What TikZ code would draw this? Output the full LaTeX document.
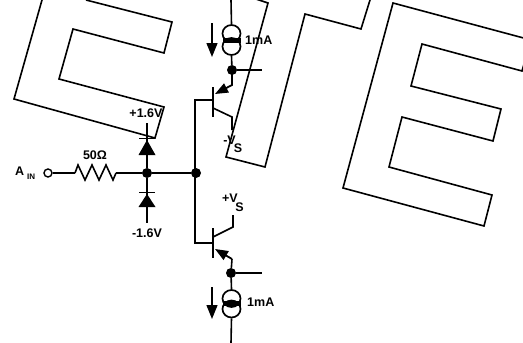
\documentclass[tikz,border=0pt]{standalone}
\usepackage{fontspec}
\setmainfont{Liberation Sans}
\usetikzlibrary{arrows.meta,shapes.geometric}
\tikzset{
 outline/.style={line width=1.6pt,line join=miter},
 wire/.style={line width=1.6pt},
 dotj/.style={circle,fill=black,inner sep=0pt,minimum size=10pt},
 lbl/.style={font=\bfseries\fontsize{12.5}{14}\selectfont,inner sep=0pt},
 csrc/.style={draw,ellipse,line width=1.7pt,minimum width=18pt,minimum height=17pt,inner sep=0pt},
 curarrow/.style={line width=1.3pt,-{Triangle[length=14pt,width=11pt]}},
 emit/.style={line width=1.8pt,-{Triangle[length=13pt,width=10pt]}},
 dio/.style={fill=black},
}
\begin{document}
\begin{tikzpicture}[x=1pt,y=-1pt]
\useasboundingbox (0,0) rectangle (523,343);
\clip (0,0) rectangle (523,343);
% watermark letters
\draw[outline] (42,0) -- (14,99) -- (155,138) -- (164,107) -- (59,79) -- (73,29) -- (164,53) -- (172,22) -- (86,0);
\draw[outline] (250,-3) -- (268,3) -- (226,157) -- (265,167) -- (305,14) -- (361,29) -- (370,0);
\draw[outline] (393,3) -- (531,40) -- (522,71) -- (422,44) -- (411,86) -- (501,109) -- (493,141) -- (402,117) -- (389,167) -- (492,195) -- (484,226) -- (343,188) -- cycle;
% nodes
\node[dotj] (j1) at (147,173) {};
\node[dotj] (j2) at (196,173) {};
\node[dotj] (j3) at (232,70) {};
\node[dotj] (j4) at (231,273) {};
\node[circle,draw,line width=1.4pt,minimum size=8pt,inner sep=0pt] (ain) at (48,173) {};
\coordinate (r1) at (75,173);
\coordinate (r2) at (116,173);
\coordinate (t1) at (147,123);
\coordinate (t2) at (147,223);
\coordinate (qb) at (213,100);
\coordinate (qb2) at (213,243);
\coordinate (top) at (231,0);
\coordinate (bot) at (231,343);
\coordinate (o1) at (262,70);
\coordinate (o2) at (262,273);
\node[csrc] (s1) at (231.5,33.5) {};
\node[csrc] (s2) at (231.5,46.5) {};
\node[csrc] (s3) at (231.5,298.5) {};
\node[csrc] (s4) at (231.5,309) {};
\fill (222.5,37.5) rectangle (240.5,42.5);
\fill (222.5,301) rectangle (240.5,306);
% wiring
\draw[wire] (ain) -- (r1);
\draw[wire] (r1) -- (78,165) -- (85,180) -- (92,165) -- (99,180) -- (106,165) -- (113,180) -- (r2);
\draw[wire] (r2) -- (j1) -- (j2);
\draw[wire] (t1) -- (j1) -- (t2);
\draw[wire] (qb) -- (195,100) -- (195,243) -- (qb2);
\draw[wire] (top) -- (s1.north);
\draw[wire] (s2.south) -- (j3);
\draw[wire] (j3) -- (o1);
\draw[wire] (s4.south) -- (bot);
\draw[wire] (j4) -- (s3.north);
\draw[wire] (j4) -- (o2);
% diodes
\draw[wire] (139,138.5) -- (155,138.5);
\fill[dio] (147,140) -- (155.5,155) -- (138.5,155) -- cycle;
\draw[wire] (139,192.5) -- (155,192.5);
\fill[dio] (147,194) -- (155.5,207) -- (138.5,207) -- cycle;
% top transistor
\draw[line width=2.2pt] (213,87) -- (213,117);
\draw[emit] (232,70) -- (232,85) -- (215,94);
\draw[wire] (213,108) -- (232,117) -- (232,130);
% bottom transistor
\draw[line width=2.2pt] (213,228) -- (213,258);
\draw[wire] (213,237) -- (233,227) -- (233,215);
\draw[emit] (232,259) -- (215,249);
\draw[wire] (232,259) -- (j4);
% current arrows
\draw[curarrow] (212,23) -- (212,57);
\draw[curarrow] (212,287) -- (212,319);
% labels
\node[lbl] (l1) at (95,155) {50Ω};
\node[lbl,anchor=west] (l2) at (15,171) {A};
\node[lbl,font=\bfseries\fontsize{8}{9}\selectfont,anchor=west] (l3) at (27,177) {IN};
\node[lbl] (l4) at (146,113) {+1.6V};
\node[lbl] (l5) at (147,233) {-1.6V};
\node[lbl,anchor=west] (l6) at (245,40) {1mA};
\node[lbl,anchor=west] (l7) at (247,302) {1mA};
\node[lbl,anchor=east] (l8) at (236,140) {-V};
\node[lbl] (l9) at (238,148) {S};
\node[lbl,anchor=east] (l10) at (238,198) {+V};
\node[lbl] (l11) at (239.5,207) {S};
\end{tikzpicture}
\end{document}
